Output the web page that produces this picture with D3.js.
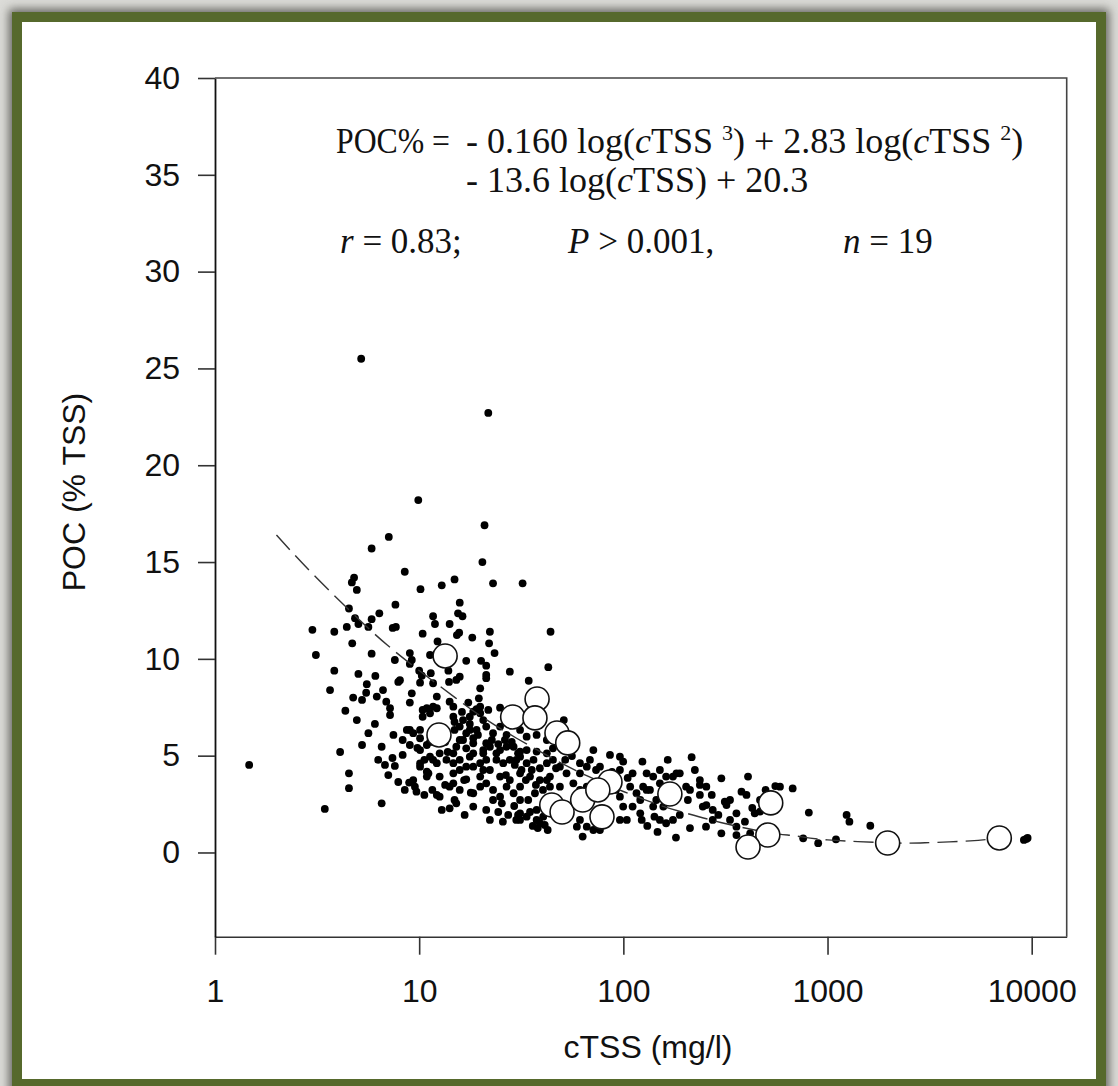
<!DOCTYPE html>
<html>
<head>
<meta charset="utf-8">
<script src="https://cdn.jsdelivr.net/npm/d3@7"></script>
<style>
  html, body { margin: 0; padding: 0; width: 1118px; height: 1086px; overflow: hidden; background: #dcdcd8; }
  .frame { position: absolute; left: 12px; top: 12px; width: 1094px; height: 1100px; background: #56692c; box-shadow: 0 0 9px 3px rgba(70, 70, 65, 0.8); }
  .inner { position: absolute; left: 22px; top: 22px; width: 1074px; height: 1057px; background: #fff; }
  svg { position: absolute; left: 0; top: 0; }
</style>
</head>
<body>
<div class="frame"></div>
<div class="inner"></div>
<svg id="chart" width="1118" height="1086"></svg>
<script>
// small black dots: cTSS (mg/l) and POC (% TSS)
const dotTSS = [
  5.2, 21.8, 9.9, 20.9, 7.1, 5.85, 20.4, 8.5, 4.8, 4.68, 4.95, 10.15, 12.9, 14.9, 23.0, 32.1,
  15.8, 15.5, 16.3, 4.53, 7.65, 6.38, 5.85, 4.85, 5.04, 11.7, 11.95, 14.1, 3.0, 3.84, 4.42, 5.64,
  7.42, 7.69, 10.4, 15.7, 15.3, 18.2, 22.2, 22.0, 23.4, 4.7, 5.85, 3.12, 12.3, 12.1, 11.3, 9.0,
  17.0, 20.1, 21.3, 21.3, 21.3, 27.8, 3.84, 5.04, 6.1, 9.2, 9.0, 10.0, 10.3, 13.9, 11.4, 7.9,
  8.05, 10.1, 11.7, 14.0, 15.2, 15.8, 5.54, 5.5, 6.2, 4.75, 9.2, 9.0, 6.9, 7.2, 7.2, 4.35,
  4.95, 10.9, 10.4, 11.7, 14.1, 14.7, 12.2, 17.4, 18.4, 19.9, 5.64, 6.07, 6.55, 7.48, 8.3, 8.7,
  9.0, 9.35, 10.1, 8.3, 10.1, 10.6, 11.3, 14.9, 15.8, 17.0, 18.4, 17.0, 14.7, 15.8, 18.4, 20.6,
  22.2, 21.3, 23.9, 25.8, 27.8, 29.0, 30.5, 6.8, 7.6, 4.53, 4.53, 7.06, 8.93, 9.53, 9.7, 10.1,
  11.1, 11.6, 14.1, 14.9, 15.2, 14.1, 17.0, 17.9, 1.47, 3.45, 6.55, 25.7, 31.2, 44.0, 42.9, 34.4,
  19.9, 19.6, 19.1, 19.9, 17.7, 20.6, 21.8, 24.9, 51.1, 31.2, 33.6, 37.6, 42.2, 10.4, 11.3, 12.2,
  14.7, 16.4, 15.8, 17.7, 19.1, 21.3, 23.0, 24.9, 26.8, 16.4, 15.2, 18.4, 21.3, 20.6, 24.9, 26.8,
  31.2, 33.6, 37.6, 42.2, 45.2, 31.2, 12.6, 13.6, 12.2, 14.7, 17.7, 18.4, 19.9, 23.9, 29.9, 33.6,
  36.3, 39.0, 42.2, 45.2, 10.9, 12.6, 14.7, 19.9, 21.3, 24.9, 27.8, 31.2, 34.9, 39.0, 43.7, 48.9,
  52.7, 61.3, 66.2, 61.3, 71.3, 86, 96.2, 99.8, 124, 216, 76.8, 96.2, 111, 140, 151, 175,
  189, 203, 237, 255, 25.4, 31.2, 31.2, 33.6, 31.2, 36.9, 37.6, 37.6, 39.0, 40.5, 42.2, 43.7,
  48.9, 56.9, 61.3, 66.2, 59.2, 54.8, 61.3, 59.2, 66.2, 71.3, 76.8, 63.2, 89, 96.2, 99.8, 96.2,
  104, 111, 116, 108, 121, 130, 121, 123, 162, 182, 140, 151, 162, 175, 181, 254,
  274, 255, 237, 130, 125, 145, 157, 142, 189, 207, 237, 245, 274, 302, 314, 320,
  302, 333, 358, 379, 401, 408, 358, 394, 440, 467, 418, 358, 585, 675, 810, 1240,
  1280, 1620, 760, 900, 1100, 9400, 9550, 9160, 10.1, 11.7, 15.8, 17.0, 20.6, 23.0, 26.8, 29.0,
  9.35, 10.9, 14.7, 15.8, 18.4, 19.9, 24.9, 12.6, 18.4, 21.3, 23.0, 29.9, 30.5, 10.1, 10.9, 13.4,
  14.9, 16.2, 17.7, 19.4, 22.7, 24.4, 26.3, 28.4, 29.4, 31.7, 33.3, 35.6, 37.3, 40.4, 34.2, 34.9,
  36.0, 38.1, 41.2, 42.6, 29.2, 27.3, 24.4, 22.2, 16.7, 12.9, 12.2, 13.4, 10.6, 8.5, 7.9, 7.4,
  9.0, 9.8, 11.3, 13.8, 16.6, 22.2, 26.6, 46.8, 51.9, 56.0, 68.6, 73.5, 79.2, 88, 92, 105,
  135, 151, 165, 212, 224, 271, 292, 333, 428, 467, 497, 555, 131, 147, 212, 3.66,
  5.25, 6.65, 7.6, 6.3, 5.25, 4.1
];
const dotPOC = [
  25.5, 22.7, 18.2, 16.9, 16.3, 15.7, 15.0, 14.5, 14.2, 13.95, 13.56, 13.6, 13.8, 14.1, 13.9, 13.9,
  12.9, 12.35, 12.2, 12.6, 12.8, 12.35, 12.05, 12.1, 11.8, 12.2, 11.8, 11.8, 11.5, 11.4, 11.65, 11.65,
  11.6, 11.65, 11.3, 11.35, 11.23, 11.1, 11.4, 10.8, 10.3, 10.8, 10.27, 10.2, 10.9, 10.25, 10.2, 10.3,
  9.9, 9.9, 9.65, 9.17, 9.0, 9.34, 9.39, 9.22, 9.12, 9.94, 9.74, 9.39, 9.13, 9.39, 9.26, 8.81,
  8.9, 8.77, 8.74, 8.81, 8.91, 9.08, 8.69, 8.25, 8.05, 8.0, 8.22, 7.74, 7.79, 7.45, 7.1, 7.32,
  6.84, 7.45, 7.01, 7.53, 7.79, 7.53, 8.05, 7.74, 7.27, 7.53, 6.16, 6.64, 5.46, 6.07, 5.81, 6.33,
  6.33, 6.16, 5.9, 5.04, 5.29, 4.78, 4.95, 6.33, 5.81, 6.16, 5.9, 5.38, 5.12, 4.78, 5.12, 5.12,
  5.46, 4.78, 5.12, 4.61, 4.78, 5.46, 5.12, 4.52, 4.47, 4.09, 3.32, 4.0, 3.61, 3.4, 3.14, 4.43,
  4.09, 3.23, 3.4, 2.71, 2.54, 2.28, 3.78, 3.09, 4.52, 2.25, 2.54, 1.59, 2.02, 11.4, 9.57, 8.87,
  8.48, 7.96, 7.4, 7.19, 7.01, 6.84, 7.36, 7.48, 6.84, 6.33, 5.98, 6.07, 5.81, 7.36, 7.19, 7.45,
  7.01, 6.84, 6.5, 6.33, 6.33, 6.5, 6.16, 6.5, 6.07, 5.81, 5.46, 5.64, 5.64, 5.29, 5.29, 5.46,
  5.21, 5.29, 5.21, 5.12, 5.38, 4.95, 5.12, 4.78, 4.61, 4.61, 4.95, 4.43, 4.61, 4.78, 4.78, 4.61,
  4.78, 4.35, 4.61, 4.78, 4.17, 3.92, 4.09, 3.92, 3.57, 3.92, 3.74, 4.09, 3.92, 3.74, 3.92, 4.43,
  4.09, 4.61, 4.43, 4.09, 5.29, 5.04, 4.95, 4.69, 4.69, 4.92, 4.43, 4.26, 4.09, 3.92, 3.57, 3.92,
  4.09, 3.4, 3.74, 3.4, 2.54, 3.4, 2.71, 1.85, 1.68, 3.06, 2.2, 1.68, 1.51, 1.85, 3.74, 3.4,
  3.4, 3.57, 3.23, 3.4, 2.71, 2.02, 1.68, 1.33, 1.33, 1.16, 1.16, 0.82, 3.4, 2.88, 2.37, 1.68,
  1.68, 2.37, 3.06, 3.4, 2.71, 3.23, 2.02, 1.68, 3.92, 4.09, 2.37, 1.68, 1.51, 1.68, 0.77, 1.33,
  1.68, 2.45, 2.97, 4.09, 3.4, 2.71, 2.37, 1.85, 1.94, 2.71, 3.49, 2.37, 2.2, 3.83, 2.62, 2.45,
  0.99, 1.68, 1.33, 3.14, 2.97, 3.92, 2.02, 1.59, 2.02, 2.11, 0.99, 0.9, 3.4, 3.31, 2.06, 1.94,
  1.59, 1.38, 0.73, 0.48, 0.68, 0.7, 0.75, 0.65, 4.6, 4.78, 4.26, 4.43, 4.26, 3.23, 3.4, 3.06,
  3.74, 3.92, 3.57, 3.23, 3.06, 3.4, 2.88, 2.88, 2.37, 2.2, 2.71, 1.68, 1.94, 6.33, 5.55, 5.7,
  6.74, 7.26, 6.64, 6.07, 5.81, 5.6, 5.81, 5.71, 4.52, 4.26, 3.74, 4.26, 3.49, 3.23, 2.71, 2.09,
  1.37, 1.26, 1.42, 1.16, 2.4, 1.94, 2.09, 1.68, 1.94, 2.2, 2.97, 3.49, 2.97, 3.23, 3.64, 4.88,
  5.55, 5.4, 5.71, 5.19, 3.74, 4.26, 4.0, 4.35, 4.78, 4.98, 4.78, 4.26, 3.85, 4.16, 3.23, 3.85,
  3.23, 4.26, 4.78, 3.23, 4.26, 2.97, 1.94, 2.71, 2.3, 2.71, 3.23, 3.43, 1.37, 1.06, 1.26, 8.39,
  7.88, 8.39, 9.94, 4.78, 5.55, 5.19
];

// open circles (n = 19)
const meanTSS = [13.4, 12.5, 28.7, 37.8, 36.9, 47.3, 53.4, 44.6, 50.1, 63.2, 78.6, 86, 75.0, 169, 527, 510, 408, 1970, 6940];
const meanPOC = [10.15, 6.07, 7.0, 7.93, 6.95, 6.17, 5.66, 2.45, 2.09, 2.71, 1.84, 3.64, 3.23, 3.02, 2.56, 0.9, 0.28, 0.49, 0.75];

// dashed fitted curve
const fitTSS = [2, 3, 5, 7, 10, 15, 20, 30, 50, 70, 100, 150, 200, 300, 500, 700, 1000, 2000, 3000, 5000, 7000];
const fitPOC = [16.4, 14.4, 12.1, 10.7, 9.4, 8.0, 7.05, 5.9, 4.6, 3.85, 3.15, 2.45, 2.05, 1.55, 1.05, 0.85, 0.65, 0.5, 0.5, 0.6, 0.75];

const xTicks = [1, 10, 100, 1000, 10000];
const yTicks = [0, 5, 10, 15, 20, 25, 30, 35, 40];

const svg = d3.select("#chart");
const sans = "'Liberation Sans', Arial, sans-serif";
const serif = "'Liberation Serif', 'Times New Roman', serif";

const x = d3.scaleLog().domain([1, 14840]).range([215, 1066.7]);
const y = d3.scaleLinear().domain([-4.35, 40]).range([936.7, 78]);

// ---------------- axes
const gx = svg.append("g")
  .attr("transform", `translate(0,${y.range()[0]})`)
  .call(d3.axisBottom(x).tickValues(xTicks).tickFormat(d3.format("d"))
    .tickSize(18).tickSizeOuter(0).tickPadding(25));

const gy = svg.append("g")
  .attr("transform", `translate(${x.range()[0]},0)`)
  .call(d3.axisLeft(y).tickValues(yTicks).tickSize(17).tickSizeOuter(0).tickPadding(18));

[gx, gy].forEach(g => {
  g.attr("font-size", 32).attr("font-family", sans);
  g.selectAll("text").attr("fill", "#111");
  g.selectAll("line").attr("stroke", "#333").attr("stroke-width", 1.6);
  g.select(".domain").attr("stroke", "#333").attr("stroke-width", 1.6);
});
gy.select(".domain").attr("stroke", "#111").attr("stroke-width", 1.8);

// top and right border of the box
svg.append("path")
  .attr("d", `M${x.range()[0]},${y.range()[1]}H${x.range()[1]}V${y.range()[0]}`)
  .attr("fill", "none")
  .attr("stroke", "#444")
  .attr("stroke-width", 1.6);

// ---------------- points
svg.append("g")
  .selectAll("circle")
  .data(d3.zip(dotTSS, dotPOC))
  .join("circle")
  .attr("cx", d => x(d[0]))
  .attr("cy", d => y(d[1]))
  .attr("r", 3.9)
  .attr("fill", "#000");

const line = d3.line()
  .x(d => x(d[0]))
  .y(d => y(d[1]))
  .curve(d3.curveNatural);

svg.append("path")
  .datum(d3.zip(fitTSS, fitPOC))
  .attr("d", line)
  .attr("fill", "none")
  .attr("stroke", "#333")
  .attr("stroke-width", 1.4)
  .attr("stroke-dasharray", "20,8");

svg.append("g")
  .selectAll("circle")
  .data(d3.zip(meanTSS, meanPOC))
  .join("circle")
  .attr("cx", d => x(d[0]))
  .attr("cy", d => y(d[1]))
  .attr("r", 12)
  .attr("fill", "#fff")
  .attr("stroke", "#111")
  .attr("stroke-width", 1.6);

// ---------------- axis titles
svg.append("text")
  .attr("x", 648)
  .attr("y", 1058)
  .attr("text-anchor", "middle")
  .attr("font-family", sans)
  .attr("font-size", 32)
  .attr("fill", "#111")
  .text("cTSS (mg/l)");

svg.append("text")
  .attr("transform", "translate(85,492) rotate(-90)")
  .attr("text-anchor", "middle")
  .attr("font-family", sans)
  .attr("font-size", 32)
  .attr("fill", "#111")
  .text("POC (% TSS)");

// ---------------- equation block
const eq = svg.append("g").attr("font-family", serif).attr("font-size", 36).attr("fill", "#111");

eq.append("text")
  .attr("x", 336).attr("y", 153)
  .attr("textLength", 114).attr("lengthAdjust", "spacingAndGlyphs")
  .text("POC% =");

const l1 = eq.append("text").attr("x", 466).attr("y", 153);
l1.append("tspan").text("- 0.160 log(");
l1.append("tspan").attr("font-style", "italic").text("c");
l1.append("tspan").text("TSS ");
l1.append("tspan").attr("font-size", 22).attr("dy", -13).text("3");
l1.append("tspan").attr("dy", 13).text(") + 2.83 log(");
l1.append("tspan").attr("font-style", "italic").text("c");
l1.append("tspan").text("TSS ");
l1.append("tspan").attr("font-size", 22).attr("dy", -13).text("2");
l1.append("tspan").attr("dy", 13).text(")");

const l2 = eq.append("text").attr("x", 466).attr("y", 192);
l2.append("tspan").text("- 13.6 log(");
l2.append("tspan").attr("font-style", "italic").text("c");
l2.append("tspan").text("TSS) + 20.3");

const stats = [
  { x: 340, v: "r", t: " = 0.83;" },
  { x: 568, v: "P", t: " > 0.001," },
  { x: 843, v: "n", t: " = 19" }
];
stats.forEach(s => {
  const t = eq.append("text").attr("x", s.x).attr("y", 253).attr("font-size", 35);
  t.append("tspan").attr("font-style", "italic").text(s.v);
  t.append("tspan").text(s.t);
});
</script>
</body>
</html>
